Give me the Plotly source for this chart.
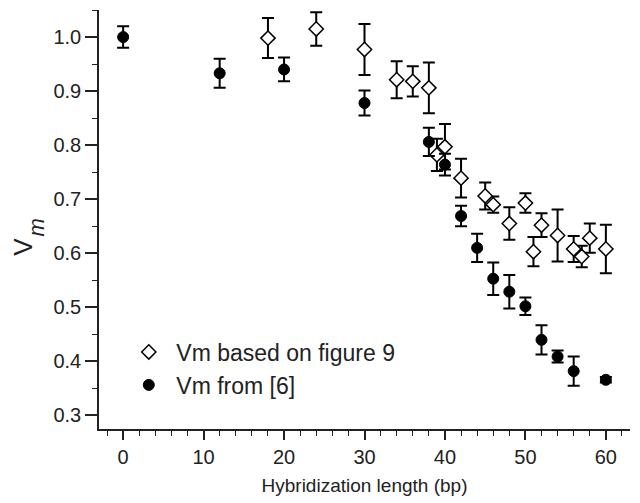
import plotly.graph_objects as go

# Series: Vm based on figure 9 (open diamonds)
x_fig9 = [18, 24, 30, 34, 36, 38, 39, 40, 42, 45, 46, 48, 50, 51, 52, 54, 56, 57, 58, 60]
y_fig9 = [0.998, 1.015, 0.977, 0.921, 0.918, 0.906, 0.782, 0.797, 0.739, 0.706, 0.690,
          0.655, 0.693, 0.603, 0.652, 0.633, 0.608, 0.594, 0.628, 0.608]
err_fig9 = [0.037, 0.031, 0.047, 0.034, 0.028, 0.047, 0.030, 0.042, 0.036, 0.025, 0.015,
            0.030, 0.018, 0.027, 0.022, 0.048, 0.024, 0.020, 0.027, 0.045]

# Series: Vm from [6] (filled circles)
x_ref6 = [0, 12, 20, 30, 38, 40, 42, 44, 46, 48, 50, 52, 54, 56, 60]
y_ref6 = [1.000, 0.933, 0.940, 0.878, 0.806, 0.764, 0.669, 0.610, 0.553, 0.529, 0.502,
          0.440, 0.409, 0.382, 0.366]
err_ref6 = [0.020, 0.027, 0.022, 0.023, 0.026, 0.020, 0.019, 0.026, 0.030, 0.031, 0.016,
            0.027, 0.011, 0.027, 0.005]

name_fig9 = "Vm based on figure 9"
name_ref6 = "Vm from [6]"
x_title = "Hybridization length (bp)"

x_ticks = [0, 10, 20, 30, 40, 50, 60]
y_ticks = [0.3, 0.4, 0.5, 0.6, 0.7, 0.8, 0.9, 1.0]
y_ticklabels = ["0.3", "0.4", "0.5", "0.6", "0.7", "0.8", "0.9", "1.0"]

FONT = "Arial, Liberation Sans, Helvetica, sans-serif"

fig = go.Figure()
fig.add_trace(go.Scatter(
    x=x_fig9, y=y_fig9, mode="markers", name=name_fig9,
    marker=dict(symbol="diamond", size=11, color="white",
                line=dict(color="black", width=1.5)),
    error_y=dict(type="data", array=err_fig9, visible=True,
                 color="black", thickness=2, width=6),
))
fig.add_trace(go.Scatter(
    x=x_ref6, y=y_ref6, mode="markers", name=name_ref6,
    marker=dict(symbol="circle", size=11, color="black",
                line=dict(color="black", width=1)),
    error_y=dict(type="data", array=err_ref6, visible=True,
                 color="black", thickness=2, width=6),
))

fig.update_layout(
    width=640, height=503,
    margin=dict(l=99, r=10, t=10, b=68),
    paper_bgcolor="white", plot_bgcolor="white",
    font=dict(family=FONT, color="#222222"),
    showlegend=True,
    legend=dict(x=0.042, y=0.235, xanchor="left", yanchor="top",
                bgcolor="rgba(0,0,0,0)", font=dict(size=23, family=FONT, color="#222222"),
                itemwidth=45, tracegroupgap=0),
    xaxis=dict(
        range=[-3, 63], showgrid=False, zeroline=False,
        showline=True, linecolor="#222222", linewidth=1.5,
        ticks="outside", ticklen=9, tickwidth=1.5, tickcolor="#222222",
        tickvals=x_ticks, tickfont=dict(size=20, family=FONT),
        minor=dict(dtick=2, ticks="outside", ticklen=5, tickwidth=1.2, tickcolor="#222222"),
        title=dict(text=x_title, font=dict(size=19, family=FONT), standoff=12),
    ),
    yaxis=dict(
        range=[0.275, 1.05], showgrid=False, zeroline=False,
        showline=True, linecolor="#222222", linewidth=1.5,
        ticks="outside", ticklen=12, tickwidth=1.5, tickcolor="#222222",
        tickvals=y_ticks, ticktext=y_ticklabels, tickfont=dict(size=20, family=FONT),
        minor=dict(dtick=0.05, tick0=0.3, ticks="outside", ticklen=5, tickwidth=1.2, tickcolor="#222222"),
    ),
)

# y-axis title: V with italic m, rotated
fig.add_annotation(text="V", xref="paper", yref="paper", x=-0.143, y=0.435,
                   xanchor="center", yanchor="middle", textangle=-90, showarrow=False,
                   font=dict(size=26, family=FONT, color="#222222"))
fig.add_annotation(text="<i>m</i>", xref="paper", yref="paper", x=-0.118, y=0.482,
                   xanchor="center", yanchor="middle", textangle=-90, showarrow=False,
                   font=dict(size=22, family=FONT, color="#222222"))

fig.write_html("out.html")
